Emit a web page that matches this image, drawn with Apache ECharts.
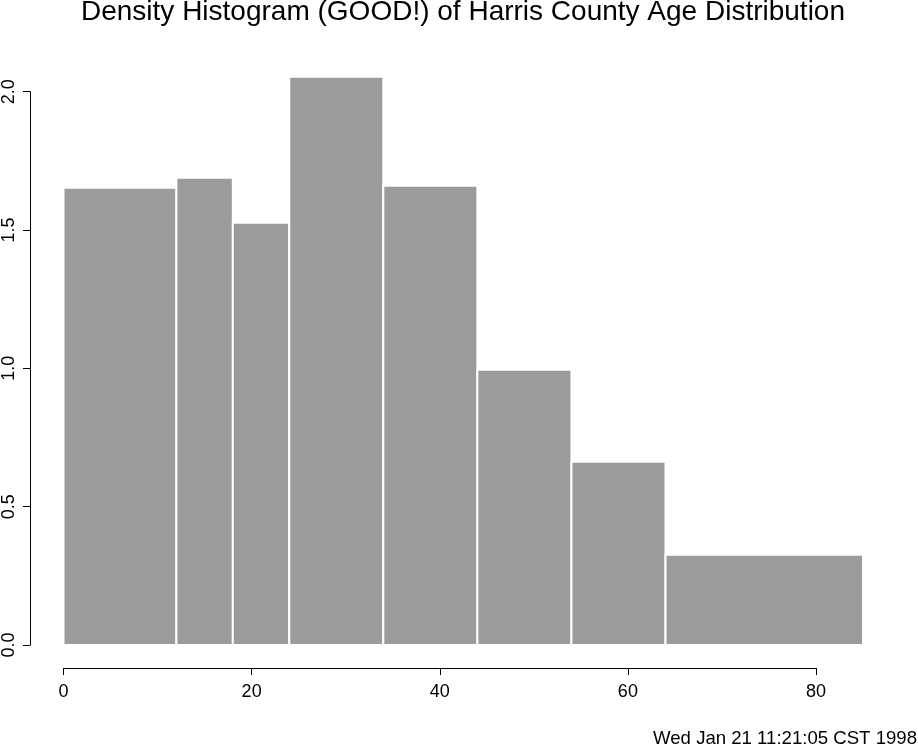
<!DOCTYPE html>
<html>
<head>
<meta charset="utf-8">
<script src="https://cdn.jsdelivr.net/npm/echarts@6/dist/echarts.min.js"></script>
<style>
html,body{margin:0;padding:0;background:#fff;}
#chart{width:918px;height:746px;}
</style>
</head>
<body>
<div id="chart"></div>
<script>
// Bin edges (age, years) and densities (percent per year)
var binStarts = [0, 12, 18, 24, 34, 44, 54, 64];
var binEnds   = [12, 18, 24, 34, 44, 54, 64, 85];
var densities = [1.653, 1.689, 1.526, 2.054, 1.660, 0.995, 0.662, 0.326];
var xTicks = [0, 20, 40, 60, 80];
var yTicks = [0.0, 0.5, 1.0, 1.5, 2.0];
var titleText = 'Density Histogram (GOOD!) of Harris County Age Distribution';
var dateText = 'Wed Jan 21 11:21:05 CST 1998';

var data = binStarts.map(function (s, i) { return [s, binEnds[i], densities[i]]; });

var chart = echarts.init(document.getElementById('chart'), null, {renderer: 'canvas'});
var font = 'Liberation Sans, Arial, Helvetica, sans-serif';

chart.setOption({
  animation: false,
  backgroundColor: '#ffffff',
  graphic: [
    {type: 'text', x: 463, y: 12.5, style: {text: titleText, fontFamily: font, fontSize: 28, fill: '#000', textAlign: 'center', textVerticalAlign: 'middle'}},
    {type: 'text', x: 917, y: 739, style: {text: dateText, fontFamily: font, fontSize: 18.6, fill: '#000', textAlign: 'right', textVerticalAlign: 'middle'}}
  ],
  grid: {left: 63.5, right: 102, top: 91.7, bottom: 101, containLabel: false},
  xAxis: {
    type: 'value', min: xTicks[0], max: xTicks[xTicks.length - 1], interval: 20,
    offset: 23,
    axisLine: {show: true, onZero: false, lineStyle: {color: '#000', width: 1}},
    axisTick: {show: true, length: 7, lineStyle: {color: '#000', width: 1}},
    axisLabel: {show: true, margin: 15, color: '#000', fontFamily: font, fontSize: 18,
      formatter: function (v) { return xTicks.indexOf(v) >= 0 ? String(v) : ''; }},
    splitLine: {show: false}
  },
  yAxis: {
    type: 'value', min: yTicks[0], max: yTicks[yTicks.length - 1], interval: 0.5,
    offset: 33.5,
    axisLine: {show: true, onZero: false, lineStyle: {color: '#000', width: 1}},
    axisTick: {show: true, length: 7, lineStyle: {color: '#000', width: 1}},
    axisLabel: {show: true, margin: 12, rotate: 90, color: '#000', fontFamily: font, fontSize: 18,
      formatter: function (v) { return v.toFixed(1); }},
    splitLine: {show: false}
  },
  series: [{
    type: 'custom',
    clip: false,
    data: data,
    encode: {x: [0, 1], y: 2},
    renderItem: function (params, api) {
      var p0 = api.coord([api.value(0), 0]);
      var p1 = api.coord([api.value(1), api.value(2)]);
      return {
        type: 'rect',
        shape: {x: p0[0], y: p1[1], width: p1[0] - p0[0], height: p0[1] - p1[1]},
        style: {fill: '#9b9b9b', stroke: '#ffffff', lineWidth: 2}
      };
    }
  }]
});
</script>
</body>
</html>
